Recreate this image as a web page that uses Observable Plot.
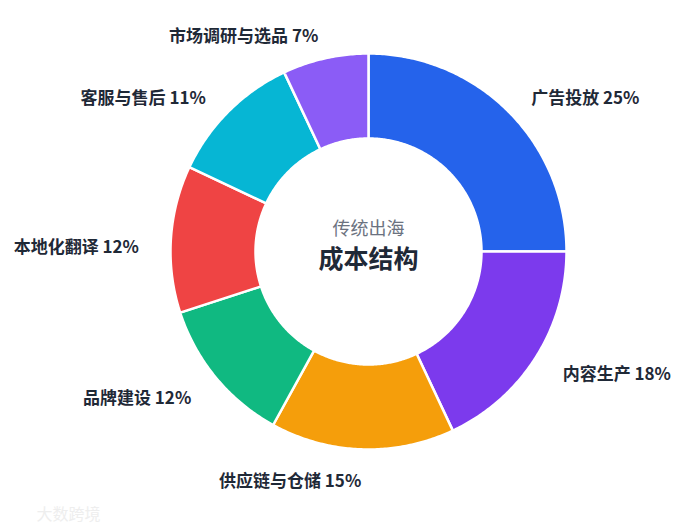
<!DOCTYPE html>
<html><head><meta charset="utf-8">
<script src="https://cdn.jsdelivr.net/npm/d3@7"></script>
<script src="https://cdn.jsdelivr.net/npm/@observablehq/plot@0.6"></script>
<style>body{margin:0;background:#fff;}</style>
</head><body><div id="chart"></div>
<script>
const categories = ["广告投放","内容生产","供应链与仓储","品牌建设","本地化翻译","客服与售后","市场调研与选品"];
const shares = [25,18,15,12,12,11,7];
const colors = ["#2563EB","#7C3AED","#F59E0B","#10B981","#EF4444","#06B6D4","#8B5CF6"];
const centerTitle = "传统出海";
const centerMain = "成本结构";

const W = 698, H = 525, cx = 368, cy = 251, R = 198, r0 = 113/198, labelR = 230/198;
const total = d3.sum(shares);
const polys = [], labels = [];
let acc = 0;
categories.forEach((name, i) => {
  const a0 = acc / total * 2 * Math.PI;
  acc += shares[i];
  const a1 = acc / total * 2 * Math.PI;
  const n = Math.max(8, Math.ceil((a1 - a0) / 0.01));
  for (let k = 0; k <= n; k++) { const a = a0 + (a1 - a0) * k / n; polys.push({name, x: Math.sin(a), y: Math.cos(a)}); }
  for (let k = n; k >= 0; k--) { const a = a0 + (a1 - a0) * k / n; polys.push({name, x: r0 * Math.sin(a), y: r0 * Math.cos(a)}); }
  const am = (a0 + a1) / 2;
  labels.push({name, text: `${name} ${shares[i]}%`, x: labelR * Math.sin(am), y: labelR * Math.cos(am),
    anchor: Math.sin(am) >= 0 ? "start" : "end", upper: Math.cos(am) > 0});
});

const labelStyle = {x: "x", y: "y", text: "text", fontSize: 17, fontWeight: "bold", fill: "#1f2937"};
const chart = Plot.plot({
  width: W, height: H, margin: 0,
  style: {fontFamily: "'Noto Sans CJK SC','Noto Sans',sans-serif", background: "#fff"},
  x: {domain: [-cx / R, (W - cx) / R], axis: null},
  y: {domain: [(cy - H) / R, cy / R], axis: null},
  color: {domain: categories, range: colors},
  marks: [
    Plot.line(polys, {x: "x", y: "y", z: "name", fill: "name", stroke: "#fff", strokeWidth: 2.5, curve: "linear-closed"}),
    Plot.text(labels.filter(d => d.anchor === "start" && d.upper), {...labelStyle, textAnchor: "start", dy: 10}),
    Plot.text(labels.filter(d => d.anchor === "start" && !d.upper), {...labelStyle, textAnchor: "start", dy: 0}),
    Plot.text(labels.filter(d => d.anchor === "end" && d.upper), {...labelStyle, textAnchor: "end", dy: 10}),
    Plot.text(labels.filter(d => d.anchor === "end" && !d.upper), {...labelStyle, textAnchor: "end", dy: 0}),
    Plot.text([centerTitle], {x: 0, y: 0, text: d => d, dy: -22, fontSize: 18, fill: "#6b7280"}),
    Plot.text([centerMain], {x: 0, y: 0, text: d => d, dy: 8, fontSize: 25, fontWeight: "bold", fill: "#1f2937"}),
    Plot.text(["大数跨境"], {frameAnchor: "bottom-left", text: d => d, dx: 36, dy: -6, fontSize: 16, fill: "#eeeeee"})
  ]
});
document.getElementById("chart").appendChild(chart);
</script></body></html>
